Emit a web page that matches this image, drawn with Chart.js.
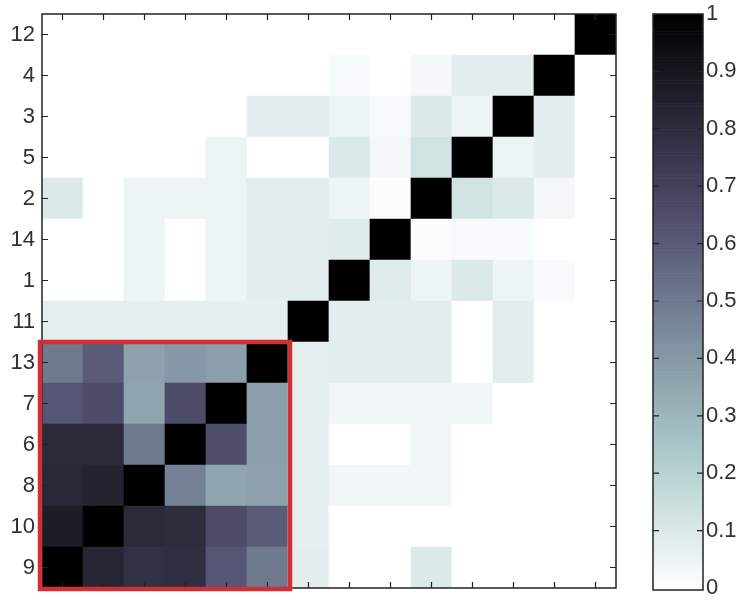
<!DOCTYPE html>
<html>
<head>
<meta charset="utf-8">
<script src="https://cdn.jsdelivr.net/npm/chart.js@4.4.0/dist/chart.umd.min.js"></script>
<style>
  html, body { margin: 0; padding: 0; background: #fff; }
  canvas { display: block; }
</style>
</head>
<body>
<canvas id="c" width="743" height="605" style="width:743px;height:605px"></canvas>
<script>
// row labels, top to bottom
var rowLabels = ['12', '4', '3', '5', '2', '14', '1', '11', '13', '7', '6', '8', '10', '9'];
// column labels, left to right (diagonal runs bottom-left to top-right)
var colLabels = ['9', '10', '8', '6', '7', '13', '11', '1', '14', '2', '5', '3', '4', '12'];

// correlation values, one array per row (same order as rowLabels)
var row12 = [0, 0, 0, 0, 0, 0, 0, 0, 0, 0, 0, 0, 0, 1];
var row4  = [0, 0, 0, 0, 0, 0, 0, 0.02, 0, 0.03, 0.08, 0.08, 1, 0];
var row3  = [0, 0, 0, 0, 0, 0.08, 0.08, 0.05, 0.02, 0.1, 0.05, 1, 0.08, 0];
var row5  = [0, 0, 0, 0, 0.05, 0, 0, 0.1, 0.03, 0.13, 1, 0.05, 0.08, 0];
var row2  = [0.1, 0, 0.05, 0.05, 0.05, 0.08, 0.08, 0.05, 0.01, 1, 0.13, 0.1, 0.03, 0];
var row14 = [0, 0, 0.05, 0, 0.05, 0.08, 0.08, 0.09, 1, 0.01, 0.02, 0.02, 0, 0];
var row1  = [0, 0, 0.05, 0, 0.05, 0.08, 0.08, 1, 0.09, 0.05, 0.1, 0.05, 0.02, 0];
var row11 = [0.07, 0.07, 0.07, 0.07, 0.07, 0.07, 1, 0.08, 0.08, 0.08, 0, 0.08, 0, 0];
var row13 = [0.5, 0.6, 0.37, 0.4, 0.38, 1, 0.07, 0.08, 0.08, 0.08, 0, 0.08, 0, 0];
var row7  = [0.62, 0.66, 0.36, 0.66, 1, 0.38, 0.07, 0.04, 0.04, 0.04, 0.04, 0, 0, 0];
var row6  = [0.81, 0.81, 0.5, 1, 0.65, 0.38, 0.07, 0, 0, 0.04, 0, 0, 0, 0];
var row8  = [0.82, 0.84, 1, 0.48, 0.36, 0.37, 0.07, 0.04, 0.04, 0.04, 0, 0, 0, 0];
var row10 = [0.87, 1, 0.81, 0.8, 0.66, 0.6, 0.07, 0, 0, 0, 0, 0, 0, 0];
var row9  = [1, 0.83, 0.78, 0.79, 0.62, 0.5, 0.08, 0, 0, 0.1, 0, 0, 0, 0];
var matrix = [row12, row4, row3, row5, row2, row14, row1, row11, row13, row7, row6, row8, row10, row9];

// colorbar ticks
var cbTicks = [0, 0.1, 0.2, 0.3, 0.4, 0.5, 0.6, 0.7, 0.8, 0.9, 1];
// highlighted block (bottom-left cluster), in cells
var clusterSize = 6;

// reversed "bone" colormap: 0 -> white, 1 -> black
function boneRGB(v) {
    var x = 1 - Math.max(0, Math.min(1, v));
    var hr = Math.min(1, x / 0.375);
    var hg = Math.min(1, Math.max(0, (x - 0.375) / 0.375));
    var hb = Math.min(1, Math.max(0, (x - 0.75) / 0.25));
    var r = (7 * x + hb) / 8, g = (7 * x + hg) / 8, b = (7 * x + hr) / 8;
    return 'rgb(' + Math.round(r * 255) + ',' + Math.round(g * 255) + ',' + Math.round(b * 255) + ')';
}

var n = rowLabels.length;
var datasets = [];
for (var k = 0; k < n; k++) {
    // stacked from the bottom: dataset 0 is the bottom row
    var vals = matrix[n - 1 - k];
    datasets.push({
        label: rowLabels[n - 1 - k],
        data: colLabels.map(function () { return 1; }),
        backgroundColor: vals.map(boneRGB),
        borderWidth: 0,
        borderSkipped: false,
        categoryPercentage: 1.0,
        barPercentage: 1.0,
        stack: 's'
    });
}

var FONT = { family: '"Liberation Sans", Arial, sans-serif', size: 22 };
var TXT = '#303030';

// fixed axis sizes; drop the label half-height padding so the plot fills the canvas
function fixWidth(w) {
    return function (scale) {
        scale.width = w;
        scale.paddingTop = 0;
        scale.paddingBottom = 0;
    };
}

var framePlugin = {
    id: 'frame',
    afterDatasetsDraw: function (chart) {
        var ctx = chart.ctx, ca = chart.chartArea;
        var xs = chart.scales.x, ys = chart.scales.y, cb = chart.scales.cb;
        var tl = 6;
        ctx.save();
        ctx.strokeStyle = '#222';
        ctx.lineWidth = 1.5;
        ctx.strokeRect(ca.left, ca.top, ca.right - ca.left, ca.bottom - ca.top);
        ctx.lineWidth = 1.2;
        ctx.beginPath();
        for (var i = 0; i < n; i++) {
            var px = xs.getPixelForValue(i);
            ctx.moveTo(px, ca.top); ctx.lineTo(px, ca.top + tl);
            ctx.moveTo(px, ca.bottom); ctx.lineTo(px, ca.bottom - tl);
            var py = ys.getPixelForValue(i + 0.5);
            ctx.moveTo(ca.left, py); ctx.lineTo(ca.left + tl, py);
            ctx.moveTo(ca.right, py); ctx.lineTo(ca.right - tl, py);
        }
        ctx.stroke();

        // red box around the cluster
        var bx0 = ca.left - 2;
        var bx1 = xs.getPixelForValue(clusterSize - 1) + (xs.getPixelForValue(1) - xs.getPixelForValue(0)) / 2 + 2;
        var by0 = ys.getPixelForValue(clusterSize);
        var by1 = ca.bottom + 1;
        ctx.strokeStyle = 'rgb(208,48,52)';
        ctx.lineWidth = 4.5;
        ctx.strokeRect(bx0, by0, bx1 - bx0, by1 - by0);

        // colorbar
        var cx0 = 653, cx1 = 703;
        var top = cb.getPixelForValue(1), bot = cb.getPixelForValue(0) + 2;
        var steps = 200;
        for (var s = 0; s < steps; s++) {
            var v = s / steps;
            var y0 = bot - (bot - top) * v;
            var y1 = bot - (bot - top) * (s + 1) / steps;
            ctx.fillStyle = boneRGB(v + 0.5 / steps);
            ctx.fillRect(cx0, y1, cx1 - cx0, y0 - y1 + 0.6);
        }
        ctx.strokeStyle = '#222';
        ctx.lineWidth = 1.5;
        ctx.strokeRect(cx0, top, cx1 - cx0, bot - top);
        ctx.lineWidth = 1.2;
        ctx.beginPath();
        cbTicks.forEach(function (t) {
            if (t === 0 || t === 1) return;
            var py = cb.getPixelForValue(t);
            ctx.moveTo(cx0, py); ctx.lineTo(cx0 + tl, py);
            ctx.moveTo(cx1, py); ctx.lineTo(cx1 - tl, py);
        });
        ctx.stroke();
        ctx.restore();
    }
};

new Chart(document.getElementById('c'), {
    type: 'bar',
    data: { labels: colLabels, datasets: datasets },
    options: {
        responsive: false,
        maintainAspectRatio: false,
        animation: false,
        devicePixelRatio: 1,
        layout: { padding: { top: 14, right: 0, bottom: 17, left: 0 } },
        plugins: { legend: { display: false }, tooltip: { enabled: false } },
        scales: {
            x: {
                stacked: true,
                display: false
            },
            y: {
                stacked: true,
                min: 0,
                max: n,
                grid: { display: false, drawTicks: false },
                border: { display: false },
                afterBuildTicks: function (scale) {
                    scale.ticks = rowLabels.map(function (_, i) { return { value: i + 0.5 }; });
                },
                ticks: {
                    padding: 7,
                    color: TXT,
                    font: FONT,
                    autoSkip: false,
                    callback: function (value) { return rowLabels[n - 1 - Math.floor(value)]; }
                },
                afterFit: fixWidth(42)
            },
            cb: {
                type: 'linear',
                position: 'right',
                min: 0,
                max: 1,
                grid: { display: false, drawTicks: false },
                border: { display: false },
                afterBuildTicks: function (scale) {
                    scale.ticks = cbTicks.map(function (t) { return { value: t }; });
                },
                ticks: {
                    padding: 90,
                    color: TXT,
                    font: FONT,
                    autoSkip: false,
                    callback: function (value) { return String(+value.toFixed(1)); }
                },
                afterFit: fixWidth(127)
            }
        }
    },
    plugins: [framePlugin]
});
</script>
</body>
</html>
